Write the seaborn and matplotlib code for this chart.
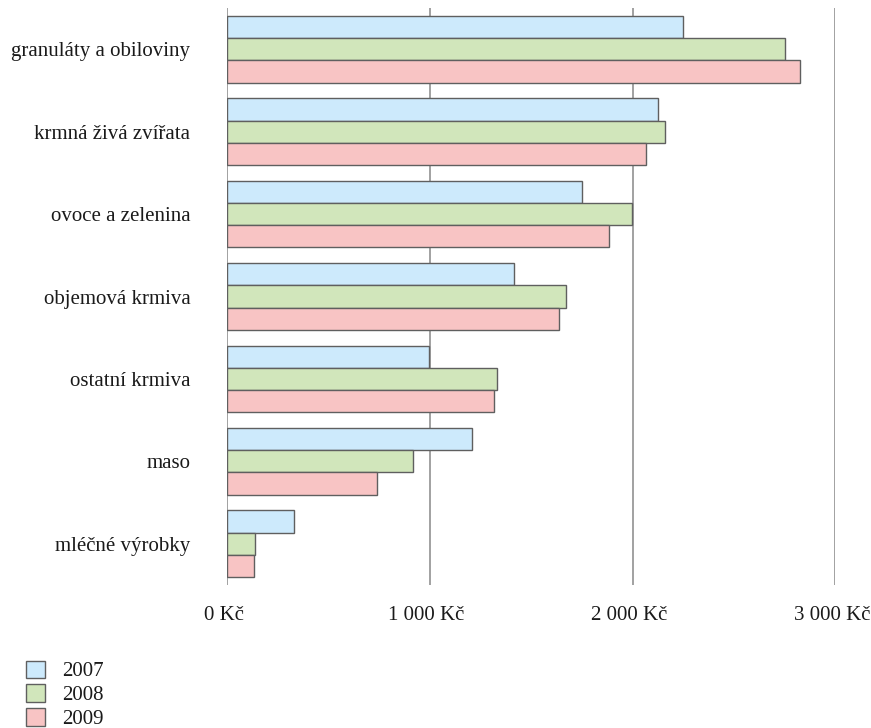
import matplotlib
matplotlib.use("Agg")
import matplotlib.pyplot as plt
from matplotlib.ticker import FuncFormatter
from matplotlib.patches import Patch
from matplotlib.transforms import ScaledTranslation
import seaborn as sns
import pandas as pd

categories = [
    "granuláty a obiloviny",
    "krmná živá zvířata",
    "ovoce a zelenina",
    "objemová krmiva",
    "ostatní krmiva",
    "maso",
    "mléčné výrobky",
]
years = ["2007", "2008", "2009"]
values_2007 = [2249, 2126, 1751, 1414, 995, 1209, 330]
values_2008 = [2753, 2161, 1998, 1673, 1330, 915, 138]
values_2009 = [2827, 2067, 1885, 1636, 1316, 738, 133]
x_ticks = [0, 1000, 2000, 3000]

colors = ["#cdeafc", "#d1e6bb", "#f8c4c4"]
edge = "#5f5f5f"

df = pd.DataFrame({
    "kategorie": categories * 3,
    "rok": [y for y in years for _ in categories],
    "hodnota": values_2007 + values_2008 + values_2009,
})

sns.set_theme(style="white")
plt.rcParams["font.family"] = ["Liberation Serif", "DejaVu Serif"]

fig = plt.figure(figsize=(8.71, 7.28), dpi=100)
ax = fig.add_axes([227.3 / 871, 1 - 585 / 728, 608.1 / 871, 577 / 728])

sns.barplot(
    data=df, y="kategorie", x="hodnota", hue="rok", order=categories,
    hue_order=years, palette=colors, orient="h", width=0.81,
    edgecolor=edge, linewidth=1.0, ax=ax, legend=False, saturation=1,
)

ax.set_xlim(0, 3000)
ax.set_xticks(x_ticks)
ax.xaxis.set_major_formatter(
    FuncFormatter(lambda v, _: f"{int(v):,}".replace(",", " ") + " Kč")
)
ax.grid(axis="x", color="#9a9a9a", linewidth=1.3)
ax.set_axisbelow(True)
for s in ax.spines.values():
    s.set_visible(False)
ax.set_xlabel("")
ax.set_ylabel("")
ax.tick_params(axis="x", length=0, pad=15, labelsize=15, colors="#1a1a1a")
ax.tick_params(axis="y", length=0, pad=26.6, labelsize=15, colors="#1a1a1a")

# nudge the currency labels slightly left of their gridlines
shift = ScaledTranslation(-3.5 / 100, 0, fig.dpi_scale_trans)
for lbl in ax.get_xticklabels():
    lbl.set_transform(lbl.get_transform() + shift)

handles = [Patch(facecolor=c, edgecolor=edge, linewidth=1.0) for c in colors]
fig.legend(
    handles, years, loc="upper left", bbox_to_anchor=(26 / 871, 1 - 660.5 / 728),
    frameon=False, fontsize=15, handlelength=0.9, handleheight=0.9,
    handletextpad=0.82, labelspacing=0.15, borderpad=0, borderaxespad=0,
    labelcolor="#1a1a1a",
)

fig.savefig("out.png", dpi=100)
